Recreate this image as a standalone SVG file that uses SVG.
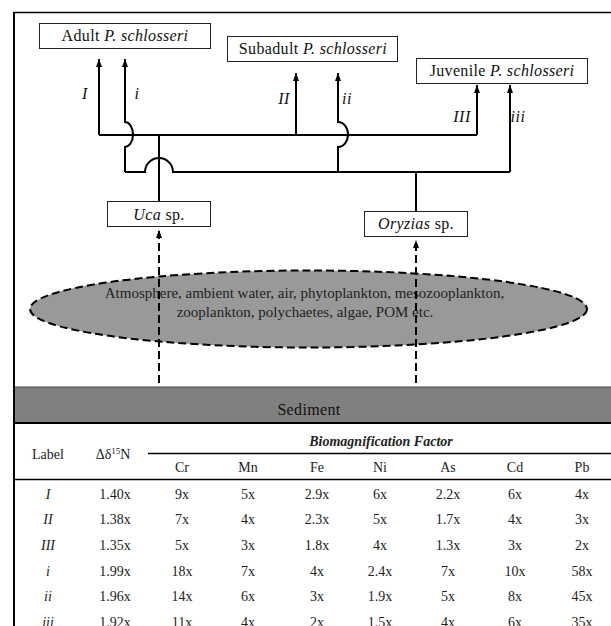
<svg xmlns="http://www.w3.org/2000/svg" width="611" height="626" viewBox="0 0 611 626">
<style>
.box{fill:#fff;stroke:#222;stroke-width:1}
.bt{font-family:"Liberation Serif",serif;font-size:16px;letter-spacing:0.35px;fill:#111;text-anchor:middle}
.it{font-style:italic}
.con{fill:none;stroke:#000;stroke-width:2}
.dash{fill:none;stroke:#000;stroke-width:2;stroke-dasharray:8 4}
.lab{font-family:"Liberation Serif",serif;font-size:16px;font-style:italic;letter-spacing:0.5px;fill:#111;text-anchor:middle}
.tt{font-family:"Liberation Serif",serif;font-size:14px;fill:#222;text-anchor:middle}
.et{font-family:"Liberation Serif",serif;font-size:15px;fill:#222;text-anchor:middle}
.tl{stroke:#000;stroke-width:1.5}
</style>
<defs>
<marker id="ah" markerUnits="userSpaceOnUse" markerWidth="8" markerHeight="6" viewBox="0 0 8 6" refX="8" refY="3" orient="auto">
<path d="M0,0 L8,3 L0,6 z" fill="#000"/>
</marker>
</defs>
<rect x="0" y="0" width="611" height="626" fill="#fff"/>
<g id="frame">
<line x1="13" y1="12.5" x2="611" y2="12.5" stroke="#000" stroke-width="1.5"/>
<line x1="14" y1="12" x2="14" y2="626" stroke="#000" stroke-width="2"/>
</g>
<g id="sources">
<ellipse cx="308.5" cy="309" rx="278.5" ry="38.5" fill="#999" stroke="#000" stroke-width="2" stroke-dasharray="8 4"/>
<text class="et" x="304.5" y="298">Atmosphere, ambient water, air, phytoplankton, mesozooplankton,</text>
<text class="et" x="305" y="316.5">zooplankton, polychaetes, algae, POM etc.</text>
</g>
<g id="sediment">
<rect x="15" y="387" width="596" height="36" fill="#808080"/>
<line x1="15" y1="387" x2="611" y2="387" stroke="#444" stroke-width="1"/>
<line x1="15" y1="423" x2="611" y2="423" stroke="#000" stroke-width="2"/>
<text class="bt" x="309" y="415">Sediment</text>
</g>
<g id="adult">
<rect class="box" x="39.5" y="23.5" width="171" height="25"/>
<text class="bt" x="125" y="40.5">Adult <tspan class="it">P. schlosseri</tspan></text>
</g>
<g id="subadult">
<rect class="box" x="227.5" y="36.5" width="170" height="25"/>
<text class="bt" x="313" y="53.5">Subadult <tspan class="it">P. schlosseri</tspan></text>
</g>
<g id="juvenile">
<rect class="box" x="416.5" y="58.5" width="171" height="25"/>
<text class="bt" x="502" y="76">Juvenile <tspan class="it">P. schlosseri</tspan></text>
</g>
<g id="uca">
<rect class="box" x="107.5" y="201.5" width="103" height="25"/>
<text class="bt" x="159" y="219.5"><tspan class="it">Uca</tspan> sp.</text>
</g>
<g id="oryzias">
<rect class="box" x="364.5" y="211.5" width="103" height="25"/>
<text class="bt" x="416" y="229"><tspan class="it">Oryzias</tspan> sp.</text>
</g>
<g id="connectors">
<path class="con" d="M159,201 V135"/>
<path class="con" d="M99,135 H477"/>
<path class="con" d="M99,135 V59" marker-end="url(#ah)"/>
<path class="con" d="M296,135 V73" marker-end="url(#ah)"/>
<path class="con" d="M477,135 V85" marker-end="url(#ah)"/>
<path class="con" d="M125,172 H145 A14,14 0 0 1 173,172 H510"/>
<path class="con" d="M416,211 V172"/>
<path class="con" d="M125,172 V147 A8,12.5 0 0 0 125,122 V59" marker-end="url(#ah)"/>
<path class="con" d="M338,172 V147 A10,12.5 0 0 0 338,122 V73" marker-end="url(#ah)"/>
<path class="con" d="M510,172 V85" marker-end="url(#ah)"/>
<path class="dash" d="M159,383 V230" marker-end="url(#ah)"/>
<path class="dash" d="M416,383 V240" marker-end="url(#ah)" stroke-width="1.6"/>
</g>
<g id="labels">
<text class="lab" x="85" y="99">I</text>
<text class="lab" x="137" y="99">i</text>
<text class="lab" x="284" y="104">II</text>
<text class="lab" x="347" y="104">ii</text>
<text class="lab" x="462" y="122">III</text>
<text class="lab" x="518" y="122">iii</text>
</g>
<g id="table">
<text class="tt" x="48" y="459">Label</text>
<text class="tt" x="113" y="459">Δδ<tspan font-size="9" dy="-5">15</tspan><tspan dy="5">N</tspan></text>
<text class="tt" x="381" y="446" font-weight="bold" font-style="italic">Biomagnification Factor</text>
<line class="tl" x1="148" y1="453.5" x2="611" y2="453.5"/>
<g class="tt">
<text x="182" y="472">Cr</text><text x="248" y="472">Mn</text><text x="317" y="472">Fe</text><text x="380" y="472">Ni</text><text x="448" y="472">As</text><text x="515" y="472">Cd</text><text x="582" y="472">Pb</text>
</g>
<line class="tl" x1="15" y1="479.5" x2="611" y2="479.5"/>
<g class="tt">
<text x="48" y="498.5" font-style="italic">I</text><text x="115" y="498.5">1.40x</text><text x="182" y="498.5">9x</text><text x="248" y="498.5">5x</text><text x="317" y="498.5">2.9x</text><text x="380" y="498.5">6x</text><text x="448" y="498.5">2.2x</text><text x="515" y="498.5">6x</text><text x="582" y="498.5">4x</text>
<text x="48" y="524.2" font-style="italic">II</text><text x="115" y="524.2">1.38x</text><text x="182" y="524.2">7x</text><text x="248" y="524.2">4x</text><text x="317" y="524.2">2.3x</text><text x="380" y="524.2">5x</text><text x="448" y="524.2">1.7x</text><text x="515" y="524.2">4x</text><text x="582" y="524.2">3x</text>
<text x="48" y="549.9" font-style="italic">III</text><text x="115" y="549.9">1.35x</text><text x="182" y="549.9">5x</text><text x="248" y="549.9">3x</text><text x="317" y="549.9">1.8x</text><text x="380" y="549.9">4x</text><text x="448" y="549.9">1.3x</text><text x="515" y="549.9">3x</text><text x="582" y="549.9">2x</text>
<text x="48" y="575.6" font-style="italic">i</text><text x="115" y="575.6">1.99x</text><text x="182" y="575.6">18x</text><text x="248" y="575.6">7x</text><text x="317" y="575.6">4x</text><text x="380" y="575.6">2.4x</text><text x="448" y="575.6">7x</text><text x="515" y="575.6">10x</text><text x="582" y="575.6">58x</text>
<text x="48" y="601.3" font-style="italic">ii</text><text x="115" y="601.3">1.96x</text><text x="182" y="601.3">14x</text><text x="248" y="601.3">6x</text><text x="317" y="601.3">3x</text><text x="380" y="601.3">1.9x</text><text x="448" y="601.3">5x</text><text x="515" y="601.3">8x</text><text x="582" y="601.3">45x</text>
<text x="48" y="627" font-style="italic">iii</text><text x="115" y="627">1.92x</text><text x="182" y="627">11x</text><text x="248" y="627">4x</text><text x="317" y="627">2x</text><text x="380" y="627">1.5x</text><text x="448" y="627">4x</text><text x="515" y="627">6x</text><text x="582" y="627">35x</text>
</g>
</g>
</svg>
